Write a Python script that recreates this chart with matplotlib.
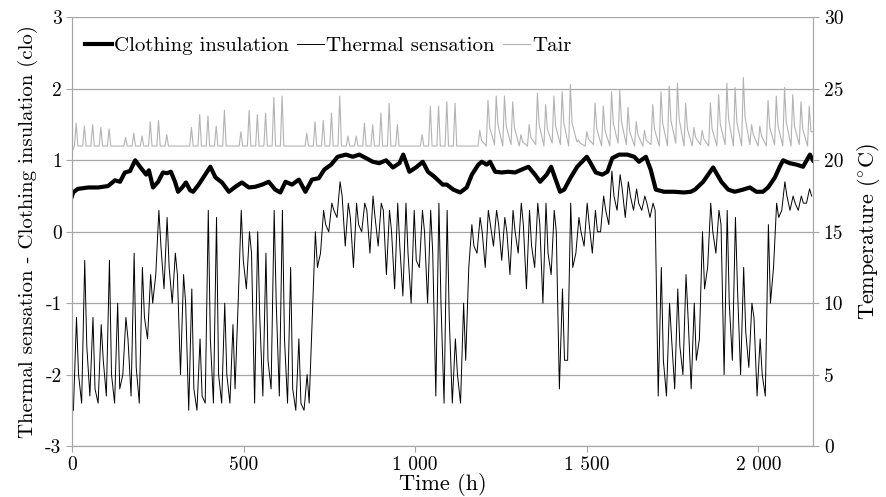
import numpy as np
import matplotlib
matplotlib.use("Agg")
import matplotlib.pyplot as plt

plt.rcParams['font.family'] = ['cmr10', 'DejaVu Serif']
plt.rcParams['mathtext.fontset'] = 'cm'
plt.rcParams['axes.unicode_minus'] = False

# ---- data (one value per day, 90 days) ----
# air temperature: morning minimum, daily peak, value a few hours after the peak
tair_min = [21.0] * 49 + [
    21.0, 21.0, 21.1, 21.0, 21.1, 21.0, 21.0, 21.1, 21.0, 21.2,
    21.1, 21.0, 21.3, 21.0, 21.1, 21.0, 21.0, 21.2, 21.1, 21.0,
    21.0, 21.1, 21.0, 21.0, 21.2, 21.0, 21.0, 21.1, 21.0, 21.0,
    21.1, 21.0, 21.0, 21.1, 21.0, 21.0, 21.1, 21.0, 21.0, 21.1, 21.0]
tair_peak = [
    22.6, 22.4, 22.5, 22.3, 22.2, 21.0, 21.6,
    21.9, 21.7, 22.7, 22.8, 21.8, 21.0, 21.0,
    22.3, 23.2, 23.1, 22.4, 23.5, 21.0, 22.0,
    23.5, 23.2, 23.3, 24.4, 24.5, 21.0, 21.0,
    21.9, 22.7, 22.8, 23.3, 24.5, 21.7, 21.7,
    22.6, 22.5, 23.3, 24.0, 22.5, 21.0, 21.0,
    21.8, 23.8, 23.8, 24.1, 24.0, 21.0, 21.0,
    22.1, 24.2, 24.5, 24.5, 24.1, 21.8, 22.5,
    24.7, 23.9, 24.5, 24.8, 25.3, 21.4, 22.0,
    24.0, 23.8, 24.8, 24.9, 23.7, 22.7, 22.1,
    23.9, 24.8, 25.2, 25.4, 24.0, 22.3, 22.1,
    24.0, 24.6, 25.4, 25.1, 25.8, 22.5, 22.4,
    24.2, 24.5, 25.1, 24.6, 24.1, 23.8]
tair_knee = [21.0] * 49 + [
    21.4, 22.3, 22.5, 22.4, 22.3, 21.3, 21.6,
    22.5, 22.2, 22.4, 22.6, 22.6, 21.2, 21.5,
    22.2, 22.1, 22.6, 22.7, 22.0, 21.8, 21.4,
    22.2, 22.6, 22.8, 22.9, 22.2, 21.6, 21.5,
    22.2, 22.5, 22.9, 22.7, 23.0, 21.8, 21.7,
    22.3, 22.4, 22.7, 22.4, 22.2, 22.0]

# thermal sensation: daily low, daily high and evening value
ts_low = [
    -2.5, -2.4, -2.3, -2.4, -2.3, -2.4, -2.0,
    -2.3, -2.4, -1.5, -0.6, -0.8, -1.0, -2.0,
    -2.5, -2.5, -2.4, -2.4, -2.4, -2.4, -1.0,
    -0.8, -2.4, -2.3, -2.2, -2.3, -2.4, -2.5,
    -2.5, -1.2, -0.3, 0.0, 0.2, -0.2, -0.5,
    0.0, -0.3, -0.2, -0.6, -0.8, -0.9, -1.0,
    -0.5, -1.0, -2.3, -2.4, -2.4, -2.4, -0.5,
    -0.3, -0.5, -0.2, -0.4, -0.6, -0.3, -0.8,
    -0.5, -1.0, -0.6, -2.2, -1.8, -0.3, -0.2,
    -0.3, 0.0, 0.1, 0.3, 0.2, 0.3, 0.3,
    0.2, -2.3, -2.3, -2.2, -2.0, -2.2, -1.5,
    -0.5, -0.3, -2.0, -1.8, -2.0, -1.9, -2.3,
    -2.3, -0.5, 0.3, 0.3, 0.3, 0.4]
ts_high = [
    -1.2, -0.4, -1.2, -1.3, -0.4, -1.0, -1.2,
    -0.3, -0.5, -0.6, 0.3, 0.2, -0.3, -0.6,
    -0.8, -1.5, 0.3, 0.2, -1.0, -1.3, 0.3,
    0.0, 0.0, -0.3, 0.3, 0.3, -0.5, -1.5,
    -2.0, 0.0, 0.3, 0.4, 0.7, 0.4, 0.4,
    0.4, 0.5, 0.4, 0.3, 0.4, 0.4, 0.3,
    0.3, 0.3, 0.4, 0.3, -1.5, -1.0, 0.1,
    0.2, 0.3, 0.3, 0.2, 0.3, 0.4, 0.3,
    0.4, 0.4, 0.3, -0.8, 0.4, 0.2, 0.4,
    0.3, 0.5, 0.85, 0.8, 0.7, 0.6, 0.5,
    0.4, -0.5, -1.0, -0.8, -0.6, -1.0, 0.0,
    0.4, 0.3, 0.3, 0.2, -0.5, -1.0, -1.5,
    0.1, 0.4, 0.7, 0.5, 0.5, 0.6]
ts_eve = [
    -2.0, -1.6, -2.2, -1.8, -2.0, -2.2, -1.5,
    -1.9, -1.2, -1.0, -0.2, -0.5, -0.6, -1.0,
    -2.2, -2.3, -1.5, -2.0, -2.0, -2.2, -0.4,
    -0.3, -1.2, -1.8, -1.0, -1.5, -2.2, -2.4,
    -2.4, -0.5, 0.1, 0.3, 0.5, 0.2, 0.1,
    0.3, 0.2, 0.3, 0.0, -0.2, -0.3, -0.4,
    0.0, -0.3, -1.0, -1.2, -2.0, -1.8, -0.2,
    0.0, 0.1, 0.1, 0.0, 0.0, 0.1, -0.2,
    0.1, -0.3, 0.0, -1.8, -0.5, 0.0, 0.1,
    0.0, 0.3, 0.5, 0.6, 0.5, 0.4, 0.4,
    0.3, -1.8, -1.5, -1.6, -1.2, -1.8, -0.8,
    0.0, 0.1, -1.0, -0.8, -1.4, -1.2, -2.0,
    -1.0, 0.2, 0.5, 0.4, 0.4, 0.5]

# clothing insulation (clo) at read-off times (h)
clo_hours = [
    0, 3, 17, 47, 76, 105, 125, 140, 154, 169, 184, 198, 216, 224, 236, 251,
    265, 277, 288, 300, 309, 321, 332, 344, 353, 369, 388, 403, 418, 437,
    457, 476, 495, 515, 534, 554, 573, 592, 607, 622, 641, 661, 680, 699,
    719, 735, 755, 774, 798, 818, 837, 857, 876, 895, 915, 935, 954, 965,
    983, 1002, 1022, 1037, 1056, 1080, 1092, 1111, 1131, 1150, 1165, 1184,
    1194, 1208, 1218, 1233, 1252, 1271, 1291, 1310, 1330, 1349, 1364, 1383,
    1396, 1407, 1422, 1434, 1453, 1472, 1500, 1511, 1526, 1545, 1560, 1574,
    1594, 1618, 1638, 1652, 1672, 1686, 1701, 1725, 1754, 1783, 1803, 1815,
    1839, 1868, 1892, 1912, 1931, 1955, 1975, 1994, 2013, 2028, 2048, 2062,
    2072, 2091, 2111, 2130, 2150, 2159]
clo_values = [
    0.50, 0.55, 0.60, 0.62, 0.62, 0.64, 0.72, 0.70, 0.83, 0.85, 1.00, 0.91,
    0.80, 0.86, 0.62, 0.70, 0.83, 0.82, 0.84, 0.70, 0.56, 0.62, 0.69, 0.58,
    0.56, 0.66, 0.80, 0.91, 0.76, 0.69, 0.56, 0.63, 0.69, 0.62, 0.63, 0.66,
    0.70, 0.59, 0.55, 0.70, 0.66, 0.73, 0.56, 0.73, 0.75, 0.87, 0.94, 1.05,
    1.08, 1.05, 1.08, 1.03, 0.98, 0.96, 1.00, 0.90, 0.96, 1.08, 0.84, 0.90,
    0.98, 0.84, 0.77, 0.66, 0.66, 0.59, 0.55, 0.62, 0.80, 0.94, 0.98, 0.94,
    0.98, 0.84, 0.83, 0.84, 0.83, 0.87, 0.91, 0.80, 0.70, 0.80, 0.91, 0.76,
    0.56, 0.59, 0.76, 0.91, 1.05, 0.96, 0.83, 0.80, 0.84, 1.03, 1.08, 1.08,
    1.05, 0.98, 1.05, 0.87, 0.59, 0.56, 0.56, 0.55, 0.56, 0.59, 0.70, 0.90,
    0.70, 0.59, 0.56, 0.59, 0.62, 0.56, 0.56, 0.62, 0.76, 0.91, 1.00, 0.96,
    0.94, 0.91, 1.08, 1.00]

x_ticks = [0, 500, 1000, 1500, 2000]
x_tick_labels = ['0', '500', '1 000', '1 500', '2 000']
left_ticks = [-3, -2, -1, 0, 1, 2, 3]
right_ticks = [0, 5, 10, 15, 20, 25, 30]

# ---- vertex lists from the per-day readings ----
days = np.arange(len(tair_peak))
tair_t = np.column_stack([days * 24 + 7, days * 24 + 12, days * 24 + 17]).ravel()
tair_v = np.column_stack([tair_min, tair_peak, tair_knee]).ravel()
tair_t = np.concatenate([[0], tair_t, [2160]])
tair_v = np.concatenate([[20.6], tair_v, [22.0]])

ts_t = np.column_stack([days * 24 + 4, days * 24 + 13, days * 24 + 19]).ravel()
ts_v = np.column_stack([ts_low, ts_high, ts_eve]).ravel()

grey = '#a6a6a6'

fig = plt.figure(figsize=(8.86, 4.97), dpi=100)
ax = fig.add_axes([0.0813, 0.1026, 0.8367, 0.8622])
ax2 = ax.twinx()

ax2.plot(tair_t, tair_v, color='#b3b3b3', lw=0.8, label='Tair')
ax.plot(clo_hours, clo_values, color='black', lw=3.0, label='Clothing insulation',
        zorder=3)
ax.plot(ts_t, ts_v, color='black', lw=0.7, label='Thermal sensation', zorder=2)

ax.set_xlim(0, 2160)
ax.set_ylim(-3, 3)
ax2.set_ylim(0, 30)

ax.set_xticks(x_ticks)
ax.set_xticklabels(x_tick_labels)
ax.set_yticks(left_ticks)
ax.set_yticklabels([str(v) for v in left_ticks])
ax2.set_yticks(right_ticks)
ax2.set_yticklabels([str(v) for v in right_ticks])

ax.yaxis.grid(True, color=grey, lw=0.9)
ax.set_axisbelow(True)

for a in (ax, ax2):
    for s in a.spines.values():
        s.set_color(grey)
    a.spines['top'].set_visible(False)
    a.tick_params(colors=grey, labelcolor='black', labelsize=14, length=4,
                  direction='out')

ax.set_xlabel('Time (h)', fontsize=16, labelpad=-1)
ax.set_ylabel('Thermal sensation - Clothing insulation (clo)', fontsize=15,
              labelpad=5)
ax2.set_ylabel(r'Temperature ($^{\circ}$C)', fontsize=16, labelpad=8)

h1, l1 = ax.get_legend_handles_labels()
h2, l2 = ax2.get_legend_handles_labels()
ax.legend(h1 + h2, l1 + l2, loc='upper left', ncol=3, frameon=False,
          fontsize=15, handlelength=1.3, handletextpad=0.1,
          columnspacing=0.4, bbox_to_anchor=(-0.008, 1.0))

fig.savefig('out.png', dpi=100)
